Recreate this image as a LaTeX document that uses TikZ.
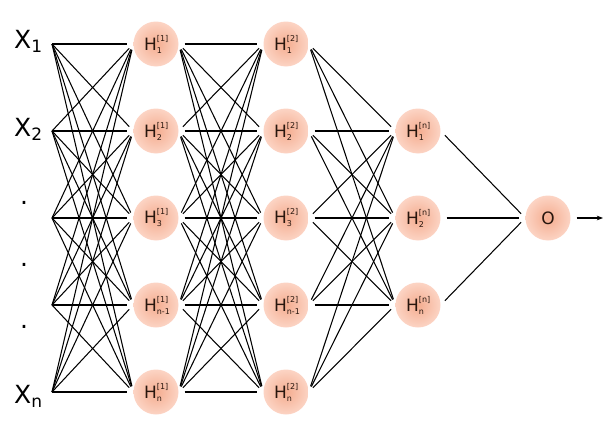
\documentclass[tikz,border=0pt]{standalone}
\usepackage{fontspec}
\setmainfont{DejaVu Sans}
\usepackage{tikz}
\usetikzlibrary{arrows.meta, positioning}
\usepackage{xcolor}
\definecolor{nodepeach}{RGB}{244,172,143}
\definecolor{nodeglow}{RGB}{252,212,196}
\definecolor{inkbrown}{RGB}{40,22,14}
\newcommand{\hlab}[2]{H\makebox[11pt][l]{\fontsize{8}{8}\selectfont\rlap{\raisebox{9pt}{[#1]}}\raisebox{-3pt}{#2}}}
\newcommand{\xlab}[1]{X\raisebox{-4pt}{\fontsize{17}{17}\selectfont #1}}

\begin{document}
\begin{tikzpicture}[
  x=1pt, y=-1pt,
  neuron/.style={circle, minimum size=45pt, inner sep=0pt, inner color=nodepeach, outer color=nodeglow, text=inkbrown, font=\fontsize{17}{17}\selectfont},
  inlabel/.style={anchor=base west, inner sep=0pt, font=\fontsize{25}{25}\selectfont},
  wire/.style={line width=1.05pt, shorten >=6pt},
  hwire/.style={wire, shorten <=6pt},
  arr/.style={-{Stealth[length=2.2mm]}, line width=1.05pt, shorten <=6pt}
]
  \useasboundingbox (0,0) rectangle (603,423);

  % Inputs
  \node[inlabel] (lx1) at (14,48) {\xlab{1}};
  \node[inlabel] (lx2) at (14,136) {\xlab{2}};
  \node[inlabel] (lxn) at (14,403) {\xlab{n}};
  \node[inlabel] (dot1) at (20,204) {.};
  \node[inlabel] (dot2) at (20,266) {.};
  \node[inlabel] (dot3) at (20,328) {.};
  \foreach \y [count=\i] in {44,131,218,305,392}
    \coordinate (x-\i) at (52,\y);

  % Hidden layers
  \foreach \lab [count=\i] in {1,2,3,n-1,n} {
    \node[neuron] (h1-\i) at (156,{44+87*(\i-1)}) {\hlab{1}{\lab}};
    \node[neuron] (h2-\i) at (286,{44+87*(\i-1)}) {\hlab{2}{\lab}};
  }
  \foreach \lab [count=\i] in {1,2,n}
    \node[neuron] (h3-\i) at (418,{131+87*(\i-1)}) {\hlab{n}{\lab}};

  % Output
  \node[neuron] (out) at (548,218) {O};
  \coordinate (y) at (603,218);

  \foreach \i in {1,...,5}
    \foreach \j in {1,...,5} {
      \draw[wire] (x-\i) -- (h1-\j.west);
      \draw[hwire] (h1-\i.east) -- (h2-\j.west);
    }
  \foreach \i in {1,...,5}
    \foreach \j in {1,2,3}
      \draw[hwire] (h2-\i.east) -- (h3-\j.west);
  \foreach \i in {1,2,3}
    \draw[hwire] (h3-\i.east) -- (out.west);
  \draw[arr] (out.east) -- (y);
\end{tikzpicture}
\end{document}
